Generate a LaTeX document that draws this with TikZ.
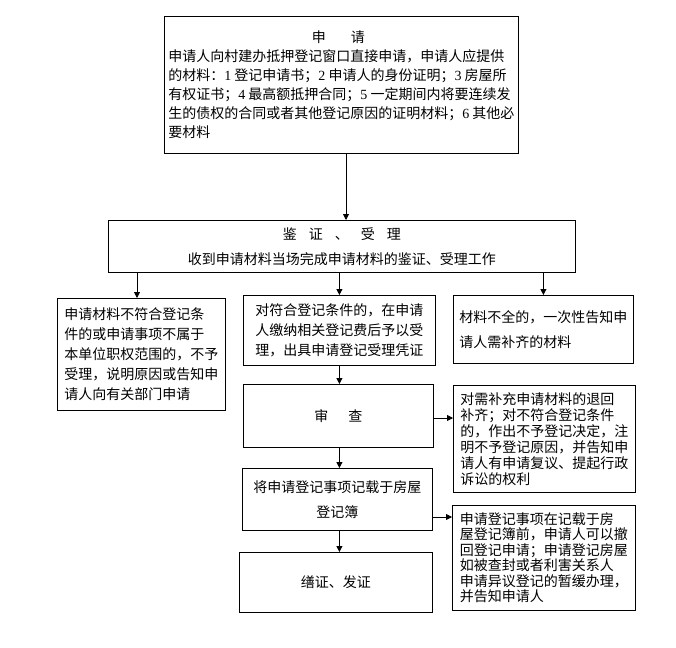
\documentclass[tikz,border=0pt]{standalone}
\usepackage{fontspec}
\setmainfont{Noto Sans CJK SC}
\newfontfamily\dig{Liberation Serif}
\usetikzlibrary{arrows.meta}
\begin{document}
\begin{tikzpicture}[x=1pt,y=-1pt,
  box/.style={draw, line width=0.8pt, inner sep=0pt, anchor=north west, font=\fontsize{14}{19}\selectfont},
  arr/.style={-{Triangle[length=6pt,width=6pt]}, line width=0.8pt}]
\useasboundingbox (0,0) rectangle (676,647);
\fill[white] (0,0) rectangle (676,647);
% top
\node[box, minimum width=354pt, minimum height=137pt, align=left] (top) at (164,16)
{\hbox to 340pt{\hfil 申\hspace{25pt}请\hfil}\\
申请人向村建办抵押登记窗口直接申请，申请人应提供\\
的材料：{\dig 1} 登记申请书；{\dig 2} 申请人的身份证明；{\dig 3} 房屋所\\
有权证书；{\dig 4} 最高额抵押合同；{\dig 5} 一定期间内将要连续发\\
生的债权的合同或者其他登记原因的证明材料；{\dig 6} 其他必\\
要材料};
% middle
\node[box, minimum width=467pt, minimum height=52pt, align=center, font=\fontsize{14}{25}\selectfont] (mid) at (108,220)
{鉴\hspace{12pt}证\hspace{12pt}、\hspace{12pt}受\hspace{12pt}理\\
收到申请材料当场完成申请材料的鉴证、受理工作};
% left
\node[box, minimum width=168pt, minimum height=112pt, align=left, font=\fontsize{14}{20}\selectfont] (left) at (57,298)
{申请材料不符合登记条\\
件的或申请事项不属于\\
本单位职权范围的，不予\\
受理，说明原因或告知申\\
请人向有关部门申请};
% center 1
\node[box, minimum width=192pt, minimum height=70pt, align=left, font=\fontsize{14}{20}\selectfont] (c1) at (243,295)
{对符合登记条件的，在申请\\
人缴纳相关登记费后予以受\\
理，出具申请登记受理凭证};
% right 1
\node[box, minimum width=180pt, minimum height=68pt, align=left, font=\fontsize{14}{25}\selectfont] (r1) at (453,295)
{材料不全的，一次性告知申\\
请人需补齐的材料};
% shencha
\node[box, minimum width=190pt, minimum height=63pt] (shen) at (243,384)
{审\hspace{20pt}查};
% record
\node[box, minimum width=190pt, minimum height=62pt, align=center, font=\fontsize{14}{25}\selectfont] (b2) at (242,468)
{将申请登记事项记载于房屋\\登记簿};
% issue
\node[box, minimum width=193pt, minimum height=60pt] (b3) at (239,552)
{缮证、发证};
% right 2
\node[box, minimum width=182pt, minimum height=107pt, align=left, font=\fontsize{14}{16}\selectfont] (r2) at (453,385)
{对需补充申请材料的退回\\
补齐；对不符合登记条件\\
的，作出不予登记决定，注\\
明不予登记原因，并告知申\\
请人有申请复议、提起行政\\
诉讼的权利};
% right 3
\node[box, minimum width=183pt, minimum height=105pt, align=left, font=\fontsize{14}{15.5}\selectfont] (r3) at (452,505)
{申请登记事项在记载于房\\
屋登记簿前，申请人可以撤\\
回登记申请；申请登记房屋\\
如被查封或者利害关系人\\
申请异议登记的暂缓办理，\\
并告知申请人};
% connectors
\coordinate (r3in) at (452,517);
\draw[arr] (top.south -| 346,0) -- (mid.north -| 346,0);
\draw[arr] (mid.south -| 137,0) -- (left.north -| 137,0);
\draw[arr] (mid.south -| c1.north) -- (c1.north);
\draw[arr] (mid.south -| r1.north) -- (r1.north);
\draw[arr] (c1.south) -- (shen.north -| c1.south);
\draw[arr] (shen.south -| c1.south) -- (b2.north -| c1.south);
\draw[arr] (b2.south -| c1.south) -- (b3.north -| c1.south);
\draw[arr] (shen.east |- 0,418) -- (r2.west |- 0,418);
\draw[arr] (b2.east |- r3in) -- (r3in);
\end{tikzpicture}
\end{document}
